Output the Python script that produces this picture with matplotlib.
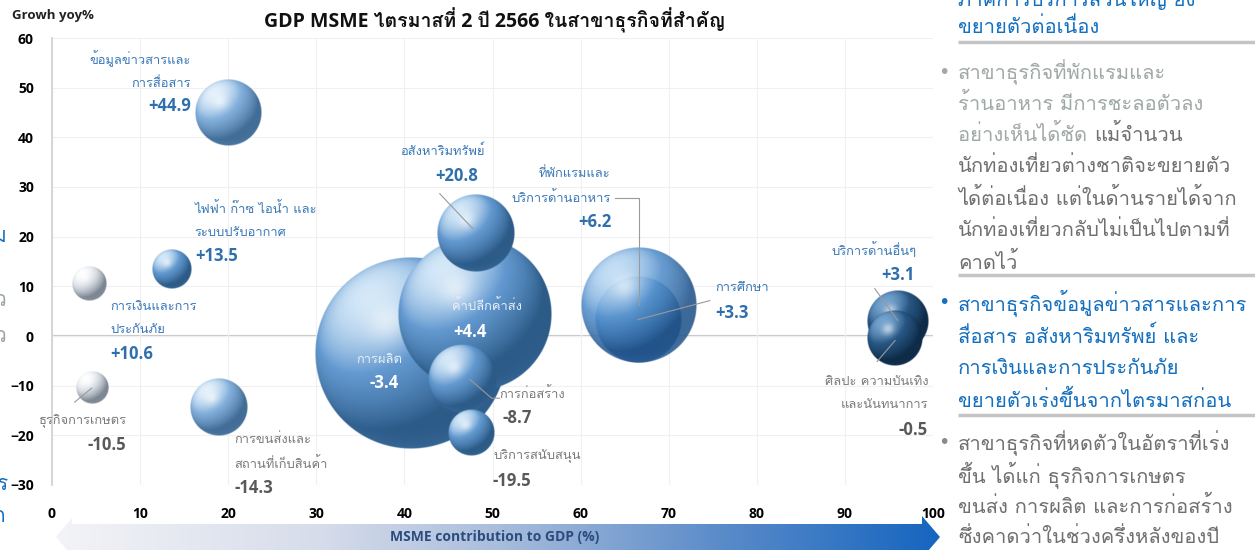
import numpy as np
import matplotlib
matplotlib.use("Agg")
import matplotlib.pyplot as plt
from matplotlib.patches import Polygon
from matplotlib.colors import to_rgb

# ---------------- data ----------------
sectors = [
    "ข้อมูลข่าวสารและ\nการสื่อสาร",
    "ไฟฟ้า ก๊าซ ไอน้ำ และ\nระบบปรับอากาศ",
    "การเงินและการ\nประกันภัย",
    "ธุรกิจการเกษตร",
    "การขนส่งและ\nสถานที่เก็บสินค้า",
    "การผลิต",
    "ค้าปลีกค้าส่ง",
    "อสังหาริมทรัพย์",
    "ที่พักแรมและ\nบริการด้านอาหาร",
    "การศึกษา",
    "บริการด้านอื่นๆ",
    "ศิลปะ ความบันเทิง\nและนันทนาการ",
    "การก่อสร้าง",
    "บริการสนับสนุน",
]
msme_contribution = [20.0, 13.6, 4.2, 4.5, 19.0, 40.7, 48.0, 48.1, 66.6, 66.5, 96.0, 95.7, 46.5, 47.6]
growth_yoy = [44.9, 13.5, 10.6, -10.5, -14.3, -3.4, 4.4, 20.8, 6.2, 3.3, 3.1, -0.5, -8.7, -19.5]
bubble_size = [10.9, 4.0, 3.0, 2.6, 8.4, 92.0, 59.0, 15.2, 33.6, 18.5, 9.6, 7.8, 11.6, 5.3]

x_ticks = [0, 10, 20, 30, 40, 50, 60, 70, 80, 90, 100]
y_ticks = [-30, -20, -10, 0, 10, 20, 30, 40, 50, 60]

title = "GDP MSME ไตรมาสที่ 2 ปี 2566 ในสาขาธุรกิจที่สำคัญ"
y_title = "Growh yoy%"
x_title = "MSME contribution to GDP (%)"

# ---------------- fonts ----------------
THAI = "Loma"
LAT = "Open Sans"
FAM = [LAT, THAI, "DejaVu Sans"]
TFAM = [THAI, "DejaVu Sans"]

W, H = 1255, 550
fig = plt.figure(figsize=(W / 100, H / 100), dpi=100)
fig.patch.set_facecolor("white")

# overlay canvas in pixel coordinates
ov = fig.add_axes([0, 0, 1, 1], zorder=0)
ov.set_xlim(0, W)
ov.set_ylim(H, 0)
ov.axis("off")

# main axes
L, R, T, B = 52, 933, 38, 485
ax = fig.add_axes([L / W, 1 - B / H, (R - L) / W, (B - T) / H], zorder=1)
ax.set_facecolor("none")
ax.set_xlim(0, 100)
ax.set_ylim(-30, 60)
ax.set_autoscale_on(False)
ax.set_xticks(x_ticks)
ax.set_yticks(y_ticks)
ax.tick_params(length=0, pad=13)
for lab in ax.get_xticklabels() + ax.get_yticklabels():
    lab.set_fontfamily(FAM)
    lab.set_fontweight("bold")
    lab.set_fontsize(10)
ax.tick_params(axis="x", pad=16)
for s in ["top", "right", "bottom"]:
    ax.spines[s].set_visible(False)
ax.spines["left"].set_color("#d0d0d0")
ax.spines["left"].set_linewidth(1.2)
ax.grid(True, color="#f0f0f0", lw=0.8)
ax.set_axisbelow(True)
ax.axhline(0, color="#c8c8c8", lw=1.5, zorder=0.5)

ppx = (R - L) / 100.0
ppy = (B - T) / 90.0

palettes = {
    "blue": ("#2c5b88", "#6399d0", "#d4e8f8"),
    "light": ("#426d97", "#82afdb", "#e4f1fb"),
    "sat": ("#22548a", "#5490cc", "#bcdaf4"),
    "white": ("#7d8793", "#d8dde4", "#ffffff"),
    "navy": ("#0e2b48", "#275683", "#74a3cf"),
}


def sphere(n, pal, alpha=1.0):
    dark, mid, light = (np.array(to_rgb(c)) for c in pal)
    g = np.linspace(-1, 1, n)
    xx, yy = np.meshgrid(g, g)
    vv = -yy
    d2 = xx ** 2 + vv ** 2
    z = np.sqrt(np.clip(1 - d2, 0, 1))
    Lv = np.array([-0.45, 0.6, 0.66])
    Lv = Lv / np.linalg.norm(Lv)
    t = np.clip(xx * Lv[0] + vv * Lv[1] + z * Lv[2], 0, 1)
    t = t[..., None]
    col = np.where(t < 0.65, dark + (mid - dark) * (t / 0.65),
                   mid + (light - mid) * ((t - 0.65) / 0.35))
    Hv = Lv + np.array([0, 0, 1.0])
    Hv = Hv / np.linalg.norm(Hv)
    spec = np.clip(xx * Hv[0] + vv * Hv[1] + z * Hv[2], 0, 1) ** 40
    col = col + (1 - col) * 0.55 * spec[..., None]
    refl = np.clip(-vv * 0.9 - 0.2, 0, 1) * np.clip(1 - z * 1.6, 0, 1)
    col = col + (mid - col) * 0.35 * refl[..., None]
    a = np.clip((1 - np.sqrt(d2)) * n / 2.0, 0, 1) * alpha
    return np.dstack([np.clip(col, 0, 1), a])


bubble_style = ["light", "blue", "white", "white", "light", "blue", "blue",
                "blue", "sat", "sat", "navy", "navy", "blue", "blue"]
bubble_alpha = [1, 1, 1, 1, 1, 1, 1, 1, 0.88, 1, 1, 1, 1, 1]
bubble_z = [3, 3, 3, 3, 3, 2, 2.1, 2.2, 2.6, 2.5, 2.7, 2.8, 2.3, 2.4]

for i in range(len(sectors)):
    r = 10 * np.sqrt(bubble_size[i])
    n = max(80, int(4 * r))
    img = sphere(n, palettes[bubble_style[i]], bubble_alpha[i])
    x, y = msme_contribution[i], growth_yoy[i]
    ax.imshow(img, extent=[x - r / ppx, x + r / ppx, y - r / ppy, y + r / ppy],
              aspect="auto", interpolation="bilinear", zorder=bubble_z[i])

# ---------------- labels ----------------
BLUE_T = "#3a78b8"
BLUE_V = "#2f6fad"
GRAY_T = "#7a7a7a"
GRAY_V = "#595959"
WHITE_T = "#e9f0f8"
NFS = 9.3
# (name dx, dy, value dx, dy, ha, name colour, value colour)  offsets in pixels, +dy = down
label_style = [
    (-37, -43, -37, -7, "right", BLUE_T, BLUE_V),
    (23, -48, 23, -13, "left", BLUE_T, BLUE_V),
    (21, 35, 21, 71, "left", BLUE_T, BLUE_V),
    (-54, 33, -4, 57, "left", GRAY_T, GRAY_V),
    (15, 45, 15, 81, "left", GRAY_T, GRAY_V),
    (-31, 7, -26, 30, "center", WHITE_T, "#ffffff"),
    (-23, -8, -22, 18, "left", WHITE_T, "#ffffff"),
    (-33, -81, 2, -57, "center_right", BLUE_T, BLUE_V),
    (-28, -119, -27, -83, "right", BLUE_T, BLUE_V),
    (77, -32, 77, -7, "left", BLUE_T, BLUE_V),
    (19, -71, 17, -46, "right", BLUE_T, BLUE_V),
    (33, 55, 33, 92, "right", GRAY_T, GRAY_V),
    (38, 15, 41, 39, "left", GRAY_T, GRAY_V),
    (22, 23, 21, 48, "left", GRAY_T, GRAY_V),
]
for i, name in enumerate(sectors):
    ndx, ndy, vdx, vdy, ha, nc, vc = label_style[i]
    x, y = msme_contribution[i], growth_yoy[i]
    nha, vha = ha, ha
    if ha == "center_right":
        nha, vha = "center", "right"
    ax.annotate(name, (x, y), xytext=(ndx, -ndy), textcoords="offset pixels",
                ha=nha, va="center", fontsize=NFS, color=nc, family=TFAM,
                linespacing=2.0, zorder=6, annotation_clip=False,
                multialignment=nha)
    ax.annotate(f"{growth_yoy[i]:+.1f}", (x, y), xytext=(vdx, -vdy),
                textcoords="offset pixels", ha=vha, va="center", fontsize=12,
                fontweight="bold", color=vc, family=FAM, zorder=6,
                annotation_clip=False)

# leader lines (label end -> bubble), in pixel offsets from bubble centre
leaders = {
    3: [(-17, 14), (0, 0)],
    7: [(-36, -39), (-3, -4)],
    8: [(-24, -107), (0, -107), (0, 0)],
    9: [(72, -19), (0, 0)],
    10: [(-23, -32), (0, 0)],
    11: [(-18, 23), (0, 2)],
    12: [(38, 19), (30, 19), (8, 0)],
}
for i, pts in leaders.items():
    x, y = msme_contribution[i], growth_yoy[i]
    xs = [x + dx / ppx for dx, dy in pts]
    ys = [y - dy / ppy for dx, dy in pts]
    ax.plot(xs, ys, color="#9a9a9a", lw=0.8, zorder=5.5)

# ---------------- overlay text ----------------
ov.text(495, 20, title, ha="center", va="center", fontsize=14,
        fontweight="bold", family=FAM, color="#111111")
ov.text(12, 16, y_title, ha="left", va="center", fontsize=9.5,
        fontweight="bold", family=FAM, color="#222222")

# gradient arrow
arrow_pts = [(56, 537), (72, 518), (72, 524), (922, 524), (922, 516),
             (940, 537), (922, 558), (922, 552), (72, 552), (72, 556)]
poly = Polygon(arrow_pts, closed=True, facecolor="none", edgecolor="none")
ov.add_patch(poly)
stops = [(0.0, "#f3f4f7"), (0.3, "#d6dcea"), (0.5, "#a9bddc"),
         (0.75, "#5b8cc9"), (1.0, "#1565c0")]
tt = np.linspace(0, 1, 400)
grad = np.zeros((1, 400, 3))
for ch in range(3):
    grad[0, :, ch] = np.interp(tt, [s for s, c in stops], [to_rgb(c)[ch] for s, c in stops])
im = ov.imshow(grad, extent=[56, 940, 558, 516], aspect="auto", zorder=1)
im.set_clip_path(poly)
ov.set_xlim(0, W)
ov.set_ylim(H, 0)
ov.text(495, 537, x_title, ha="center", va="center", fontsize=10,
        fontweight="bold", family=FAM, color="#2b4c7e", zorder=3)

# right-hand commentary
RB = "#136fbf"
RG = "#9fa9a8"
RD = "#707070"
RF = 14.5
tx = 958
ov.text(tx, -2, "ภาคการบริการส่วนใหญ่ ยัง", fontsize=RF, color=RB, family=TFAM, va="center")
ov.text(tx, 27, "ขยายตัวต่อเนื่อง", fontsize=RF, color=RB, family=TFAM, va="center")
rows = [
    (72, [("สาขาธุรกิจที่พักแรมและ", RG)], True, RG),
    (103, [("ร้านอาหาร มีการชะลอตัวลง", RG)], False, None),
    (134, [("อย่างเห็นได้ชัด ", RG), ("แม้จำนวน", RD)], False, None),
    (166, [("นักท่องเที่ยวต่างชาติจะขยายตัว", RD)], False, None),
    (198, [("ได้ต่อเนื่อง แต่ในด้านรายได้จาก", RD)], False, None),
    (230, [("นักท่องเที่ยวกลับไม่เป็นไปตามที่", RD)], False, None),
    (262, [("คาดไว้", RD)], False, None),
    (303, [("สาขาธุรกิจข้อมูลข่าวสารและการ", RB)], True, RB),
    (336, [("สื่อสาร อสังหาริมทรัพย์ และ", RB)], False, None),
    (368, [("การเงินและการประกันภัย", RB)], False, None),
    (400, [("ขยายตัวเร่งขึ้นจากไตรมาสก่อน", RB)], False, None),
    (443, [("สาขาธุรกิจที่หดตัวในอัตราที่เร่ง", RD)], True, "#8a8a8a"),
    (475, [("ขึ้น ได้แก่ ธุรกิจการเกษตร", RD)], False, None),
    (506, [("ขนส่ง การผลิต และการก่อสร้าง", RD)], False, None),
    (537, [("ซึ่งคาดว่าในช่วงครึ่งหลังของปี", RD)], False, None),
]
fig.canvas.draw()
rend = fig.canvas.get_renderer()
for y, segs, bullet, bc in rows:
    if bullet:
        ov.text(944, y, "•", fontsize=14, color=bc, family="DejaVu Sans",
                ha="center", va="center")
    x = tx
    for s, c in segs:
        t = ov.text(x, y, s, fontsize=RF, color=c, family=TFAM, va="center")
        bb = t.get_window_extent(rend)
        x += bb.width
for y in (42, 275, 415):
    ov.plot([958, 1255], [y, y], color="#c4c4c4", lw=2.5, solid_capstyle="butt")

# cut-off fragments at the left edge
ov.text(6, 237, "ม", fontsize=15, color=RB, family=TFAM, ha="right", va="center")
ov.text(6, 300, "ว", fontsize=15, color="#9aa5a3", family=TFAM, ha="right", va="center")
ov.text(6, 337, "ว", fontsize=15, color="#9aa5a3", family=TFAM, ha="right", va="center")
ov.text(8, 485, "ร", fontsize=15, color=RB, family=TFAM, ha="right", va="center")
ov.text(5, 517, "ก", fontsize=15, color=RB, family=TFAM, ha="right", va="center")

fig.savefig("out.png", dpi=100)
